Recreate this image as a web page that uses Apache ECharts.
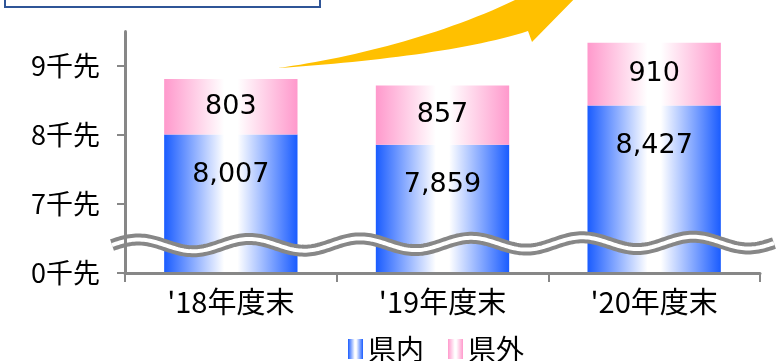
<!DOCTYPE html>
<html>
<head>
<meta charset="utf-8">
<script src="https://cdn.jsdelivr.net/npm/echarts@6/dist/echarts.min.js"></script>
<style>
  html, body { margin: 0; padding: 0; background: #fff; }
  #chart { width: 783px; height: 361px; }
</style>
</head>
<body>
<div id="chart"></div>
<script>
// Fiscal year-end categories
const categories = ["'18年度末", "'19年度末", "'20年度末"];
// Clients inside the prefecture (県内) and outside (県外)
const inPref = [8007, 7859, 8427];
const outPref = [803, 857, 910];
// Value-axis ticks: the axis is broken, so its bottom (6000) is shown as 0
const yTickValues = [6000, 7000, 8000, 9000];
const yTickLabels = ['0千先', '7千先', '8千先', '9千先'];

const jp = '"Noto Sans CJK JP", "Noto Sans", sans-serif';
const num = '"DejaVu Sans", sans-serif';

function hGrad(edge) {
  return new echarts.graphic.LinearGradient(0, 0, 1, 0, [
    { offset: 0, color: edge },
    { offset: 0.45, color: '#ffffff' },
    { offset: 0.55, color: '#ffffff' },
    { offset: 1, color: edge }
  ]);
}

// Wavy axis-break band
function wavePoints(x0, x1) {
  const pts = [];
  for (let x = x0; x <= x1; x += 2) {
    const c = 245.5 - (x - 138) * 0.005;
    pts.push([x, c - 6 * Math.cos(2 * Math.PI * (x - 138) / 111)]);
  }
  return pts;
}
const wave = wavePoints(112, 775);

// Cubic bezier sampled into points
function bez(p0, p1, p2, p3, n) {
  const out = [];
  for (let i = 0; i <= n; i++) {
    const t = i / n, u = 1 - t;
    out.push([
      u * u * u * p0[0] + 3 * u * u * t * p1[0] + 3 * u * t * t * p2[0] + t * t * t * p3[0],
      u * u * u * p0[1] + 3 * u * u * t * p1[1] + 3 * u * t * t * p2[1] + t * t * t * p3[1]
    ]);
  }
  return out;
}
// Curved growth arrow
const arrow = [].concat(
  bez([278, 68], [350, 58], [440, 36], [515, 0], 30),
  [[505, -12], [585, -12], [532, 42], [528, 31]],
  bez([528, 31], [470, 50], [370, 62], [278, 68], 30)
);

const chart = echarts.init(document.getElementById('chart'));
chart.setOption({
  animation: false,
  grid: { left: 125, right: 23, top: 31.5, bottom: 88, containLabel: false },
  xAxis: {
    type: 'category',
    data: categories,
    z: 10,
    axisLine: { lineStyle: { color: '#878787', width: 3 } },
    axisTick: { show: true, length: 9, lineStyle: { color: '#878787', width: 2 } },
    axisLabel: { color: '#000', fontSize: 29, fontFamily: jp, margin: 14 }
  },
  yAxis: {
    type: 'value',
    min: 6000,
    max: 9500,
    interval: 1000,
    z: 10,
    splitLine: { show: false },
    axisLine: { show: true, lineStyle: { color: '#878787', width: 3 } },
    axisTick: { show: true, length: 8, customValues: yTickValues, lineStyle: { color: '#878787', width: 2 } },
    axisLabel: {
      customValues: yTickValues,
      color: '#000', fontSize: 27, fontFamily: jp, margin: 25,
      formatter: v => yTickLabels[yTickValues.indexOf(v)] || ''
    }
  },
  legend: {
    data: ['県内', '県外'],
    left: 343, top: 330,
    itemWidth: 15, itemHeight: 20, itemGap: 24,
    textStyle: { color: '#000', fontSize: 28, fontFamily: jp },
    icon: 'rect'
  },
  series: [
    {
      name: '県内', type: 'bar', stack: 'total', data: inPref, barWidth: '63%',
      itemStyle: { color: hGrad('#1a5cff') },
      label: {
        show: true, position: 'insideTop', distance: 27,
        color: '#000', fontSize: 27, fontFamily: num,
        formatter: p => p.value.toLocaleString('en-US')
      }
    },
    {
      name: '県外', type: 'bar', stack: 'total', data: outPref, barWidth: '63%',
      itemStyle: { color: hGrad('#ff99cc') },
      label: {
        show: true, position: 'inside',
        color: '#000', fontSize: 27, fontFamily: num,
        formatter: p => p.value.toLocaleString('en-US')
      }
    }
  ],
  graphic: [
    // title box along the top edge
    {
      type: 'rect', z: 5,
      shape: { x: 5, y: -40, width: 315, height: 47 },
      style: { fill: '#fff', stroke: '#2f5597', lineWidth: 2 }
    },
    {
      type: 'polygon', z: 5,
      shape: { points: arrow },
      style: { fill: '#ffc000' }
    },
    // break band: gray edges with a white core
    {
      type: 'polyline', z: 5,
      shape: { points: wave },
      style: { stroke: '#878787', lineWidth: 12, fill: null }
    },
    {
      type: 'polyline', z: 6,
      shape: { points: wave },
      style: { stroke: '#ffffff', lineWidth: 4, fill: null }
    }
  ]
});
</script>
</body>
</html>
